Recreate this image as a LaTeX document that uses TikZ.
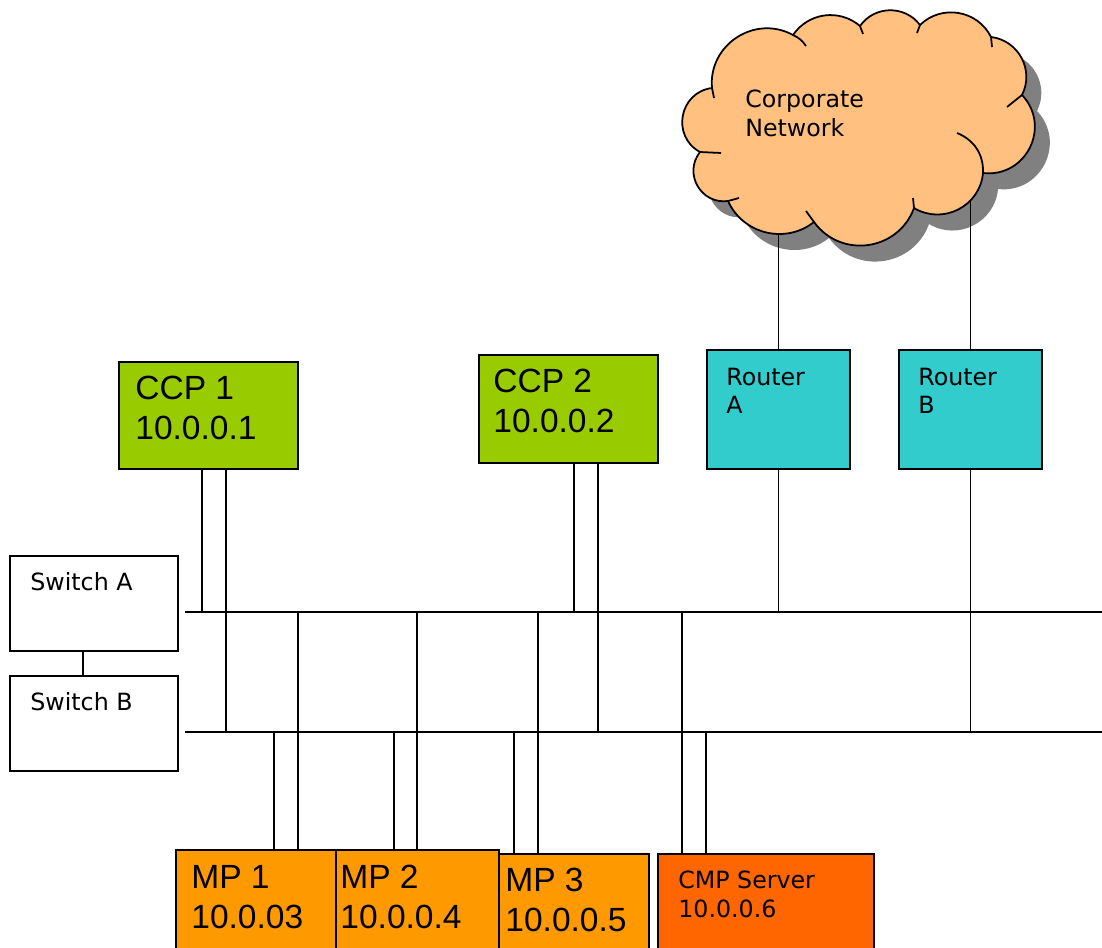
\documentclass[tikz,border=0pt]{standalone}
\usepackage{fontspec}
\setmainfont{Liberation Sans}
\newfontfamily\verdfont{DejaVu Sans}
\definecolor{ccpgreen}{HTML}{99CC00}
\definecolor{routercyan}{HTML}{33CCCC}
\definecolor{mporange}{HTML}{FF9900}
\definecolor{cmporange}{HTML}{FF6600}
\definecolor{cloudpeach}{HTML}{FFC080}
\definecolor{shadegray}{HTML}{808080}
\newdimen\px \px=0.02cm
\tikzset{
  unitbox/.style={draw, line width=1pt, inner sep=0pt, anchor=north west},
  biglabel/.style={inner sep=0pt, anchor=north west, align=left,
    font=\fontsize{19.1pt}{22.7pt}\selectfont},
  smalllabel/.style={inner sep=0pt, anchor=north west, align=left,
    font=\verdfont\fontsize{13.5pt}{16pt}\selectfont},
  wire/.style={line width=0.9pt},
  puff/.style 2 args={bend left=#1, looseness=#2}
}
\newcommand*{\cloudpath}{(712,88) to[puff={62}{1.15}] (793,35) to[puff={48}{1.03}] (860,26)
  to[puff={54}{1.07}] (920,25) to[puff={54}{1.07}] (991,37) to[puff={55}{1.08}] (1022,95)
  to[puff={70}{1.27}] (983,173) to[puff={58}{1.11}] (914,208) to[puff={62}{1.16}] (814,222)
  to[puff={52}{1.05}] (728,201) to[puff={68}{1.24}] (700,152) to[puff={72}{1.3}] (712,88) -- cycle}

\begin{document}
\begin{tikzpicture}[x=0.02cm,y=-0.02cm]
\useasboundingbox (0,0) rectangle (1102,947);
\clip (0,0) rectangle (1102,947);
% switches
\node[unitbox, minimum width=168\px, minimum height=95\px] (swA) at (9,555) {};
\node[unitbox, minimum width=168\px, minimum height=95\px] (swB) at (9,675) {};
\node[smalllabel] (swAtxt) at (30,572) {Switch A};
\node[smalllabel] (swBtxt) at (30,692) {Switch B};
\draw[wire] ([xshift=-11\px]swA.south) -- ([xshift=-11\px]swB.north);
% control points and routers
\node[unitbox, fill=ccpgreen, minimum width=179\px, minimum height=107\px] (ccp1) at (118,361) {};
\node[unitbox, fill=ccpgreen, minimum width=179\px, minimum height=108\px] (ccp2) at (478,354) {};
\node[biglabel] (ccp1txt) at (135,376) {CCP 1\\10.0.0.1};
\node[biglabel] (ccp2txt) at (493,369) {CCP 2\\10.0.0.2};
\node[unitbox, fill=routercyan, minimum width=143\px, minimum height=119\px] (rtA) at (706,349) {};
\node[unitbox, fill=routercyan, minimum width=143\px, minimum height=119\px] (rtB) at (898,349) {};
\node[smalllabel] (rtAtxt) at (726,368) {Router\\A};
\node[smalllabel] (rtBtxt) at (918,368) {Router\\B};
% media processors
\node[unitbox, fill=mporange, minimum width=160\px, minimum height=120\px] (mp1) at (175,849) {};
\node[unitbox, fill=mporange, minimum width=163\px, minimum height=120\px] (mp2) at (335,849) {};
\node[unitbox, fill=mporange, minimum width=150\px, minimum height=120\px] (mp3) at (498,853) {};
\node[unitbox, fill=cmporange, minimum width=216\px, minimum height=120\px] (cmp) at (657,853) {};
\node[biglabel] (mp1txt) at (191,865) {MP 1\\10.0.03};
\node[biglabel] (mp2txt) at (340,865) {MP 2\\10.0.0.4};
\node[biglabel] (mp3txt) at (505,868) {MP 3\\10.0.0.5};
\node[smalllabel] (cmptxt) at (678,871) {CMP Server\\10.0.0.6};
% the two buses
\coordinate (busA) at (185,612);
\coordinate (busB) at (185,732);
\coordinate (busAend) at (1102,612);
\coordinate (busBend) at (1102,732);
\draw[wire] (busA) -- (busAend);
\draw[wire] (busB) -- (busBend);
\foreach \n/\dx/\bus in {ccp1/84/busA, ccp1/108/busB, ccp2/96/busA, ccp2/120/busB}
  \draw[wire] ([xshift=\dx\px]\n.south west) -- ([xshift=\dx\px]\n.south west |- \bus);
\foreach \n/\dx/\bus in {mp1/99/busB, mp1/123/busA, mp2/59/busB, mp2/82/busA,
    mp3/16/busB, mp3/40/busA, cmp/25/busA, cmp/49/busB}
  \draw[wire] ([xshift=\dx\px]\n.north west) -- ([xshift=\dx\px]\n.north west |- \bus);
\draw[wire] (rtA.south) -- (rtA.south |- busA);
\draw[wire] (rtB.south) -- (rtB.south |- busB);
% corporate network
\coordinate (cloudmid) at (856,150);
\fill[shadegray, shift={(15,16)}] \cloudpath;
\draw[wire] (rtA.north) -- (rtA.north |- cloudmid);
\draw[wire] (rtB.north) -- (rtB.north |- cloudmid);
\draw[line width=1pt, fill=cloudpeach] \cloudpath;
\draw[line width=1pt] (712,88) -- (714,98);
\draw[line width=1pt] (793,35) to[bend left=15] (806,46);
\draw[line width=1pt] (860,26) -- (863,34);
\draw[line width=1pt] (920,25) -- (917,33);
\draw[line width=1pt] (991,37) -- (992,47);
\draw[line width=1pt] (1022,95) -- (1007,107);
\draw[line width=1pt] (983,173) to[bend right=35] (957,133);
\draw[line width=1pt] (914,208) -- (913,198);
\draw[line width=1pt] (814,222) -- (806,211);
\draw[line width=1pt] (728,201) -- (739,198);
\draw[line width=1pt] (700,152) -- (721,153);
\node[smalllabel] (cloudtxt) at (745,90) {Corporate\\Network};
\end{tikzpicture}
\end{document}
